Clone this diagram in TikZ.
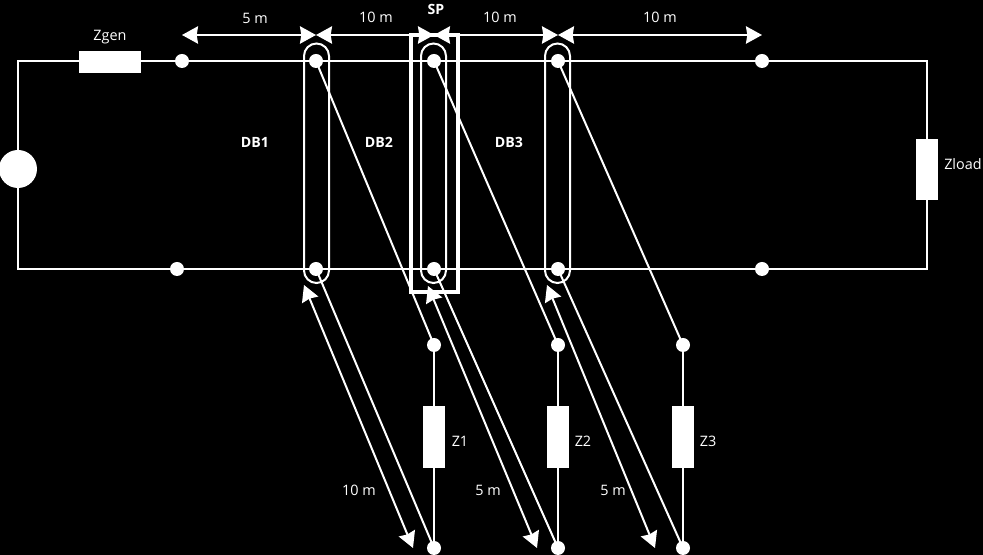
\documentclass[tikz,border=0pt]{standalone}
\usepackage{fontspec}
\setmainfont{Open Sans}
\usetikzlibrary{arrows.meta}
\tikzset{
  wire/.style={draw=white,line width=1.5pt},
  thin wire/.style={draw=white,line width=1.5pt},
  dot/.style={circle,fill=white,inner sep=0pt,minimum size=10.5pt},
  comp/.style={rectangle,fill=white,inner sep=0pt},
  dim/.style={draw=white,line width=1.5pt,{Stealth[fill=white,length=12pt,width=13pt,inset=1pt]}-{Stealth[fill=white,length=12pt,width=13pt,inset=1pt]}},
  lab/.style={text=white,font=\fontsize{10.8pt}{12pt}\selectfont,inner sep=0pt},
  blab/.style={text=white,font=\fontsize{10.6pt}{12pt}\selectfont\bfseries,inner sep=0pt},
  stad/.style={draw=white,line width=1.5pt},
}
\begin{document}
\begin{tikzpicture}[x=0.75pt,y=-0.75pt]
\useasboundingbox[fill=black] (0,0) rectangle (983,555);
% corners of the main loop
\coordinate (tl) at (18,61);
\coordinate (tr) at (927,61);
\coordinate (bl) at (18,269);
\coordinate (br) at (927,269);
\draw[wire] (tl) -- (tr) -- (br) -- (bl) -- cycle;
% stadiums
\draw[stad] (304,56) arc[start angle=180,end angle=360,radius=12.5] -- (329,270.5) arc[start angle=0,end angle=180,radius=12.5] -- cycle;
\draw[stad] (421,56) arc[start angle=180,end angle=360,radius=12.5] -- (446,270.5) arc[start angle=0,end angle=180,radius=12.5] -- cycle;
\draw[stad] (545,56) arc[start angle=180,end angle=360,radius=12.5] -- (570,270.5) arc[start angle=0,end angle=180,radius=12.5] -- cycle;
% SP box
\draw[white,line width=2.8pt] (411,35) rectangle (458,292);
% dots
\foreach \n/\x/\y in {t0/182/61,t1/316/61,t2/434/61,t3/558/61,t4/762/61,
  b0/177/269,b1/316/269,b2/434/269,b3/558/269,b4/762/269,
  m1/434/345,m2/558/345,m3/683/345,e1/434/548,e2/558/548,e3/683/548}
  \node[dot] (\n) at (\x,\y) {};
% source
\node[circle,fill=white,minimum size=28.5pt,inner sep=0pt] (src) at (18,169) {};
% components
\node[comp,minimum width=46.5pt,minimum height=16.5pt] (zgen) at (110,62) {};
\node[comp,minimum width=16.5pt,minimum height=46pt] (zload) at (927,169.5) {};
\node[comp,minimum width=16.5pt,minimum height=46pt] (z1) at (434,437) {};
\node[comp,minimum width=16.5pt,minimum height=46pt] (z2) at (558,437) {};
\node[comp,minimum width=16.5pt,minimum height=46pt] (z3) at (683,437) {};
% slanted wires
\draw[thin wire] (t1.center) -- (m1.center);
\draw[thin wire] (t2.center) -- (m2.center);
\draw[thin wire] (t3.center) -- (m3.center);
\draw[thin wire] (b1.center) -- (e1.center);
\draw[thin wire] (b2.center) -- (e2.center);
\draw[thin wire] (b3.center) -- (e3.center);
\draw[thin wire] (m1) -- (z1) -- (e1);
\draw[thin wire] (m2) -- (z2) -- (e2);
\draw[thin wire] (m3) -- (z3) -- (e3);
% dimension arrows
\coordinate (d0) at (182,35);
\coordinate (d1) at (316,35);
\coordinate (d2) at (434,35);
\coordinate (d3) at (558,35);
\coordinate (d4) at (762,35);
\draw[dim] (d0) -- (d1);
\draw[dim] (d1) -- (d2);
\draw[dim] (d2) -- (d3);
\draw[dim] (d3) -- (d4);
\coordinate (a1) at (304,285);
\coordinate (a1e) at (413,548);
\coordinate (a2) at (428,286);
\coordinate (a2e) at (537,548);
\coordinate (a3) at (547,285);
\coordinate (a3e) at (655,548);
\draw[dim] (a1) -- (a1e);
\draw[dim] (a2) -- (a2e);
\draw[dim] (a3) -- (a3e);
% labels
\node[lab] (l5) at (255,18) {5 m};
\node[lab] (l10a) at (376,17) {10 m};
\node[lab] (l10b) at (500,17) {10 m};
\node[lab] (l10c) at (660,17) {10 m};
\node[blab] (sp) at (436,9) {SP};
\node[lab] (lgen) at (110,37) {Zgen};
\node[lab,anchor=west] (lload) at (944,164) {Zload};
\node[blab] (db1) at (255,142) {DB1};
\node[blab] (db2) at (379,142) {DB2};
\node[blab] (db3) at (509,142) {DB3};
\node[lab] (lz1) at (460,441) {Z1};
\node[lab] (lz2) at (583,441) {Z2};
\node[lab] (lz3) at (708,441) {Z3};
\node[lab] (s1) at (359,490) {10 m};
\node[lab] (s2) at (488,490) {5 m};
\node[lab] (s3) at (613,490) {5 m};
\end{tikzpicture}
\end{document}
